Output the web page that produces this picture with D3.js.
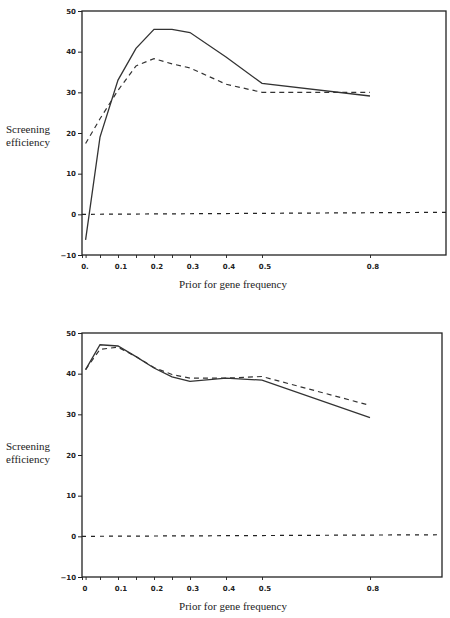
<!DOCTYPE html>
<html>
<head>
<meta charset="utf-8">
<script src="https://cdn.jsdelivr.net/npm/d3@7"></script>
<style>
body { margin: 0; background: #fff; }
.tick text { font-family: "DejaVu Sans", sans-serif; font-weight: bold; font-size: 7px; fill: #222; }
.title { font-family: "Liberation Serif", serif; font-size: 11px; fill: #222; }
</style>
</head>
<body>
<div id="chart"></div>
<script>
const freq = [0.01, 0.05, 0.1, 0.15, 0.2, 0.25, 0.3, 0.4, 0.5, 0.8];
const top_solid = [-6.3, 19, 33, 40.8, 45.5, 45.5, 44.7, 38.7, 32.2, 29.1];
const top_dashed = [17.4, 23.5, 30.5, 36.5, 38.3, 37, 36, 32, 30, 30];
const bottom_solid = [41, 47.1, 46.8, 44.2, 41.4, 39.2, 38.1, 38.9, 38.4, 29.2];
const bottom_dashed = [41, 46, 46.5, 44.2, 41.5, 39.8, 38.9, 38.9, 39.3, 32.2];
const base_freq = [0, 1.02];
const top_base = [0, 0.5];
const bottom_base = [0, 0.4];
const y_ticks = [-10, 0, 10, 20, 30, 40, 50];
const x_marks = [0, 0.01, 0.05, 0.1, 0.15, 0.2, 0.25, 0.3, 0.4, 0.5, 0.8];
const x_label_vals = [0, 0.1, 0.2, 0.3, 0.4, 0.5, 0.8];
const x_labels_top = ["0.", "0.1", "0.2", "0.3", "0.4", "0.5", "0.8"];
const x_labels_bottom = ["0", "0.1", "0.2", "0.3", "0.4", "0.5", "0.8"];
const y_title = ["Screening", "efficiency"];
const x_title = "Prior for gene frequency";

const width = 450, height = 618;
const svg = d3.select("#chart").append("svg")
  .attr("width", width)
  .attr("height", height);

const panels = [
  { id: "p1", top: 11, bottom: 255, left: 82, right: 446, solid: top_solid, dashed: top_dashed, base: top_base, labels: x_labels_top, ytitle: 133 },
  { id: "p2", top: 333, bottom: 577, left: 82, right: 442, solid: bottom_solid, dashed: bottom_dashed, base: bottom_base, labels: x_labels_bottom, ytitle: 450 }
];

panels.forEach((p) => {
  let x_scale = d3.scaleLinear()
    .domain([0, 1])
    .range([p.left, p.left + 360]);
  let y_scale = d3.scaleLinear()
    .domain([-10, 50])
    .range([p.bottom, p.top]);

  let g = svg.append("g");

  g.append("clipPath").attr("id", "clip-" + p.id)
    .append("rect")
    .attr("x", p.left).attr("y", p.top)
    .attr("width", p.right - p.left).attr("height", p.bottom - p.top);

  // tick marks at the computed frequencies
  g.append("g")
    .attr("transform", "translate(0," + p.bottom + ")")
    .call(d3.axisBottom(x_scale).tickValues(x_marks).tickSize(3).tickFormat(""))
    .call((a) => a.select(".domain").remove())
    .selectAll("line").attr("stroke", "#333");

  g.append("g")
    .attr("transform", "translate(0," + p.bottom + ")")
    .call(d3.axisBottom(x_scale).tickValues(x_label_vals).tickSize(0).tickPadding(9)
      .tickFormat((d, i) => p.labels[i]))
    .call((a) => a.select(".domain").remove())
    .selectAll("text").attr("dx", 2.5);

  g.append("g")
    .attr("transform", "translate(" + p.left + ",0)")
    .call(d3.axisLeft(y_scale).tickValues(y_ticks).tickSize(4).tickPadding(2))
    .call((a) => a.select(".domain").remove())
    .selectAll("line").attr("stroke", "#222");

  g.append("rect")
    .attr("x", p.left).attr("y", p.top)
    .attr("width", p.right - p.left).attr("height", p.bottom - p.top)
    .style("fill", "none")
    .style("stroke", "#222")
    .style("stroke-width", 1.3);

  let line = d3.line()
    .x((d) => x_scale(d[0]))
    .y((d) => y_scale(d[1]));

  let plot = g.append("g").attr("clip-path", "url(#clip-" + p.id + ")");

  plot.append("path")
    .datum(base_freq.map((f, i) => [f, p.base[i]]))
    .attr("d", line)
    .style("fill", "none")
    .style("stroke", "#222")
    .style("stroke-width", 1.2)
    .style("stroke-dasharray", "4,5");

  plot.append("path")
    .datum(freq.map((f, i) => [f, p.dashed[i]]))
    .attr("d", line)
    .style("fill", "none")
    .style("stroke", "#333")
    .style("stroke-width", 1.2)
    .style("stroke-dasharray", "5,4");

  plot.append("path")
    .datum(freq.map((f, i) => [f, p.solid[i]]))
    .attr("d", line)
    .style("fill", "none")
    .style("stroke", "#333")
    .style("stroke-width", 1.3);

  g.append("text")
    .attr("class", "title")
    .attr("x", 28)
    .attr("y", p.ytitle)
    .attr("text-anchor", "middle")
    .selectAll("tspan")
    .data(y_title)
    .join("tspan")
    .attr("x", 28)
    .attr("dy", (d, i) => i ? 13 : 0)
    .text((d) => d);

  g.append("text")
    .attr("class", "title")
    .attr("x", 233)
    .attr("y", p.bottom + 33)
    .attr("text-anchor", "middle")
    .text(x_title);
});
</script>
</body>
</html>
